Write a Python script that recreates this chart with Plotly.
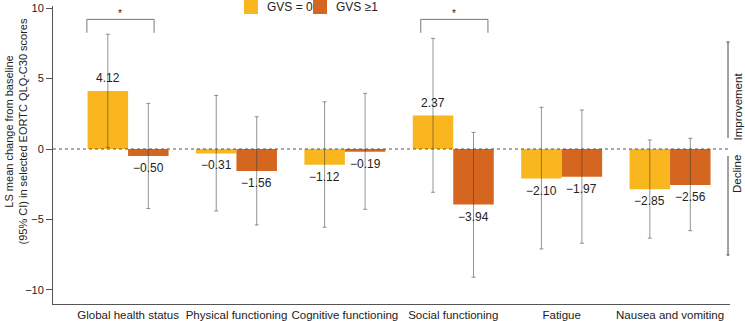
import plotly.graph_objects as go

categories = ["Global health status", "Physical functioning", "Cognitive functioning",
              "Social functioning", "Fatigue", "Nausea and vomiting"]
gvs0 = [4.12, -0.31, -1.12, 2.37, -2.10, -2.85]
gvs0_hi = [8.15, 3.80, 3.35, 7.85, 2.96, 0.64]
gvs0_lo = [0.12, -4.40, -5.55, -3.07, -7.09, -6.33]
gvs1 = [-0.50, -1.56, -0.19, -3.94, -1.97, -2.56]
gvs1_hi = [3.24, 2.29, 3.95, 1.18, 2.77, 0.76]
gvs1_lo = [-4.23, -5.39, -4.28, -9.10, -6.69, -5.80]
series_names = ["GVS = 0", "GVS \u22651"]
colors = ["#F9B61E", "#D4661F"]
sig_categories = [0, 3]
ytick_vals = [-10, -5, 0, 5, 10]

FONT = "Liberation Sans, Arial, sans-serif"
L, R, T, B = 53, 730, 6, 304
def PX(p): return (p - L) / (R - L)
def PY(q): return (B - q) / (B - T)

def fmt(v):
    return f"{v:.2f}".replace("-", "\u2212")

fig = go.Figure()
for name, vals, hi, lo, col in [(series_names[0], gvs0, gvs0_hi, gvs0_lo, colors[0]),
                                (series_names[1], gvs1, gvs1_hi, gvs1_lo, colors[1])]:
    fig.add_trace(go.Bar(
        x=categories, y=vals, name=name, marker=dict(color=col, line=dict(width=0)),
        error_y=dict(type="data", symmetric=False,
                     array=[h - v for h, v in zip(hi, vals)],
                     arrayminus=[v - l for v, l in zip(vals, lo)],
                     color="rgba(60,60,60,0.55)", thickness=1, width=2),
        showlegend=False))

shapes = []
annotations = []
# value labels (placed on the data axes, offset beyond the bar end)
bar_offset = 0.187  # half of one bar's width in category units
for s, vals in enumerate([gvs0, gvs1]):
    for i, v in enumerate(vals):
        annotations.append(dict(x=i + (-bar_offset if s == 0 else bar_offset), y=v,
                                xref="x", yref="y", text=fmt(v), showarrow=False,
                                xanchor="center", yanchor="middle",
                                yshift=13 if v >= 0 else -12,
                                font=dict(size=12, color="#222", family=FONT)))
# zero line
shapes.append(dict(type="line", xref="paper", yref="y", x0=0, x1=1, y0=0, y1=0,
                   line=dict(color="#555", width=1, dash="dot")))
# significance brackets
offsets = {0: (-0.38, 0.24), 3: (-0.30, 0.32)}
for c in sig_categories:
    a, b = offsets[c]
    x0, x1 = c + a, c + b
    for seg in [(x0, 8.25, x0, 9.2), (x0, 9.2, x1, 9.2), (x1, 9.2, x1, 8.25)]:
        shapes.append(dict(type="line", xref="x", yref="y", x0=seg[0], y0=seg[1],
                           x1=seg[2], y1=seg[3], line=dict(color="#777", width=1)))
    annotations.append(dict(x=(x0 + x1) / 2, y=9.65, xref="x", yref="y", text="*",
                            showarrow=False, font=dict(size=10, color="#222", family=FONT)))

# custom legend
for i, (name, col) in enumerate(zip(series_names, colors)):
    sx = 244 + i * 69
    shapes.append(dict(type="rect", xref="paper", yref="paper", x0=PX(sx), x1=PX(sx + 14),
                       y0=PY(14), y1=PY(-1), fillcolor=col, line=dict(width=0)))
    annotations.append(dict(x=PX(sx + 21), y=PY(7), xref="paper", yref="paper", text=name,
                            xanchor="left", yanchor="middle", showarrow=False,
                            font=dict(size=12, color="#222", family=FONT)))

# improvement / decline indicators
lx = PX(728)
for (ya, yb) in [(42, 138), (156, 255)]:
    shapes.append(dict(type="line", xref="paper", yref="paper", x0=lx, x1=lx,
                       y0=PY(ya), y1=PY(yb), line=dict(color="#444", width=1)))
for yq in [42, 255]:
    shapes.append(dict(type="line", xref="paper", yref="paper", x0=PX(726.5), x1=PX(729.5),
                       y0=PY(yq), y1=PY(yq), line=dict(color="#444", width=1)))
annotations.append(dict(x=PX(737), y=PY(106.5), xref="paper", yref="paper", text="Improvement",
                        textangle=-90, showarrow=False, xanchor="center", yanchor="middle",
                        font=dict(size=11.5, color="#222", family=FONT)))
annotations.append(dict(x=PX(737), y=PY(174), xref="paper", yref="paper", text="Decline",
                        textangle=-90, showarrow=False, xanchor="center", yanchor="middle",
                        font=dict(size=11.5, color="#222", family=FONT)))

# y-axis title
annotations.append(dict(x=PX(15), y=PY(131.5), xref="paper", yref="paper",
                        text="LS mean change from baseline<br>(95% CI) in selected EORTC QLQ-C30 scores",
                        textangle=-90, showarrow=False, xanchor="center", yanchor="middle",
                        font=dict(size=11, color="#222", family=FONT)))

fig.update_layout(
    width=745, height=321, autosize=False,
    margin=dict(l=L, r=745 - R, t=T, b=321 - B, pad=0),
    paper_bgcolor="white", plot_bgcolor="white",
    barmode="group", bargap=0.253, bargroupgap=0,
    font=dict(family=FONT, color="#222"),
    shapes=shapes, annotations=annotations,
    xaxis=dict(range=[-0.6925, 5.553], showline=True, linecolor="#555", linewidth=1,
               ticks="", showgrid=False, zeroline=False, automargin=False,
               tickfont=dict(size=11.5, color="#222", family=FONT)),
    yaxis=dict(range=[-11, 10.15], showline=True, linecolor="#555", linewidth=1,
               ticks="outside", ticklen=6, tickcolor="#555", tickvals=ytick_vals,
               showgrid=False, zeroline=False, automargin=False,
               tickfont=dict(size=11, color="#222", family=FONT)),
)

fig.write_html("out.html", config={"displayModeBar": False},
               post_script="document.body.style.margin='0';document.body.style.overflow='hidden';")
